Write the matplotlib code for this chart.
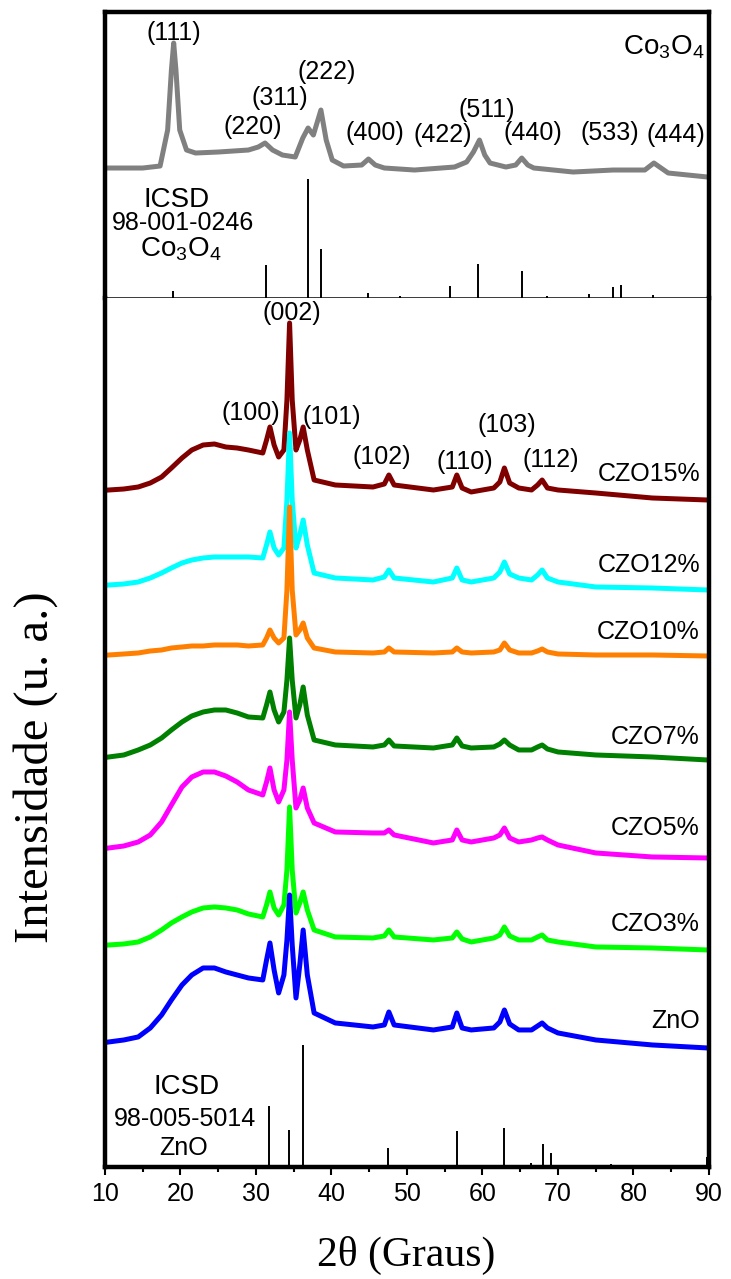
import matplotlib
matplotlib.use("Agg")
import matplotlib.pyplot as plt

plt.rcParams['font.family'] = ['Liberation Sans', 'DejaVu Sans']
plt.rcParams['mathtext.fontset'] = 'custom'
plt.rcParams['mathtext.rm'] = 'Liberation Sans'
plt.rcParams['mathtext.it'] = 'Liberation Sans'

# ---- Co3O4 pattern (top panel) ----
co_theta = [10.5, 15.0, 17.3, 18.3, 18.8, 19.1, 19.4, 19.9, 20.8, 22.0, 25.0, 29.0,
            30.3, 31.2, 32.2, 33.5, 35.2, 36.2, 36.9, 37.6, 38.6, 39.3, 40.1, 41.6,
            44.0, 44.9, 45.8, 47.0, 51.0, 56.3, 57.9, 58.8, 59.6, 60.3, 61.0, 63.1,
            64.4, 65.2, 66.0, 66.8, 72.0, 77.3, 81.5, 82.7, 84.6, 89.8]
co_int = [130, 130, 132, 168, 228, 255, 228, 168, 148, 145, 146, 148,
          151, 155, 148, 143, 141, 160, 170, 163, 188, 158, 138, 132,
          133, 139, 133, 130, 128, 131, 136, 146, 158, 143, 135, 131,
          133, 140, 133, 130, 126, 128, 128, 135, 125, 121]

co_ref_pos = [19.0, 31.3, 36.85, 38.55, 44.8, 49.1, 55.65, 59.35, 65.25, 68.6, 74.1, 77.3, 78.4, 82.6]
co_ref_int = [7, 33, 119, 49, 5, 2, 12, 34, 27, 2, 4, 11, 13, 3]

co_hkl = ['(111)', '(220)', '(311)', '(222)', '(400)', '(422)', '(511)', '(440)', '(533)', '(444)']
co_hkl_x = [19.1, 29.6, 33.2, 39.4, 45.7, 54.7, 60.5, 66.7, 76.8, 85.6]
co_hkl_y = [265, 171, 200, 226, 165, 163, 188, 165, 165, 163]

# ---- ZnO / CZO patterns (bottom panel) ----
theta = [10.5, 12.5, 14.4, 16.0, 17.5, 18.8, 20.2, 21.5, 23.0, 24.5, 26.0, 27.5,
         29.0, 30.9, 31.4, 31.85, 32.4, 33.0, 33.7, 34.1, 34.45, 34.8, 35.3, 35.8,
         36.25, 36.8, 37.7, 40.5, 45.5, 47.0, 47.6, 48.3, 53.5, 56.0, 56.6, 57.3,
         58.5, 61.5, 62.3, 62.9, 63.6, 64.8, 66.5, 67.3, 67.9, 68.6, 70.0, 75.0,
         82.5, 89.8]

czo15 = [677, 678, 680, 684, 690, 699, 709, 717, 722, 723, 720, 719,
         717, 714, 727, 740, 722, 710, 717, 767, 844, 767, 717, 727,
         740, 717, 687, 682, 680, 683, 692, 682, 677, 680, 692, 679,
         675, 679, 685, 699, 684, 679, 677, 682, 687, 679, 677, 674,
         669, 667]
czo12 = [582, 583, 585, 589, 594, 599, 604, 607, 609, 610, 610, 610,
         610, 609, 622, 635, 619, 612, 619, 667, 734, 667, 619, 632,
         647, 622, 594, 589, 587, 590, 597, 589, 585, 589, 599, 587,
         585, 589, 595, 605, 593, 589, 587, 592, 597, 589, 585, 580,
         579, 577]
czo10 = [512, 513, 514, 516, 517, 519, 520, 521, 521, 522, 522, 522,
         521, 522, 529, 537, 529, 524, 529, 577, 660, 577, 532, 537,
         544, 529, 519, 515, 514, 515, 519, 515, 514, 515, 519, 515,
         514, 515, 517, 524, 517, 514, 514, 516, 518, 515, 513, 512,
         512, 511]
czo7 = [410, 412, 417, 422, 429, 437, 445, 451, 455, 457, 457, 454,
        450, 449, 462, 475, 457, 445, 455, 487, 529, 487, 449, 462,
        480, 452, 427, 422, 420, 422, 427, 421, 419, 422, 429, 421,
        419, 420, 423, 427, 422, 417, 417, 420, 422, 418, 415, 412,
        410, 407]
czo5 = [319, 321, 325, 332, 345, 362, 380, 390, 395, 395, 391, 385,
        377, 372, 385, 399, 377, 365, 377, 407, 455, 407, 359, 367,
        379, 359, 344, 335, 334, 334, 337, 332, 324, 327, 337, 327,
        325, 329, 332, 339, 329, 325, 327, 329, 330, 327, 322, 314,
        310, 309]
czo3 = [222, 223, 225, 230, 237, 244, 250, 255, 259, 260, 259, 257,
        253, 250, 262, 275, 259, 252, 262, 297, 360, 297, 254, 264,
        275, 257, 237, 230, 229, 231, 237, 230, 227, 229, 235, 228,
        225, 229, 232, 240, 231, 227, 227, 230, 232, 227, 225, 220,
        219, 217]
zno = [125, 127, 130, 139, 152, 167, 182, 192, 199, 199, 195, 192,
       189, 187, 207, 224, 197, 174, 192, 227, 272, 222, 169, 202,
       237, 192, 154, 144, 140, 142, 155, 142, 137, 140, 154, 139,
       137, 139, 145, 157, 143, 137, 137, 141, 144, 139, 134, 127,
       122, 119]

series_names = ['CZO15%', 'CZO12%', 'CZO10%', 'CZO7%', 'CZO5%', 'CZO3%', 'ZnO']
series_data = [czo15, czo12, czo10, czo7, czo5, czo3, zno]
series_colors = ['#800000', '#00ffff', '#ff8000', '#008000', '#ff00ff', '#00ff00', '#0000ff']
series_label_y = [693, 602, 535, 430, 339, 243, 146]

zno_ref_pos = [31.75, 34.4, 36.25, 47.5, 56.6, 62.85, 66.4, 67.95, 69.1, 72.6, 77.0, 81.4, 89.7]
zno_ref_int = [61, 37, 122, 19, 36, 39, 4, 23, 14, 2, 3, 2, 10]

zno_hkl = ['(002)', '(100)', '(101)', '(102)', '(110)', '(103)', '(112)']
zno_hkl_x = [34.8, 29.3, 40.1, 46.6, 57.6, 63.2, 69.1]
zno_hkl_y = [854, 754, 750, 710, 705, 742, 707]

fig = plt.figure(figsize=(7.31, 12.79), dpi=100)
ax_top = fig.add_axes([0.1436, 0.767, 0.8263, 0.2236])
ax = fig.add_axes([0.1436, 0.0876, 0.8263, 0.6794])

# top panel
ax_top.plot(co_theta, co_int, color='#808080', lw=3.6)
ax_top.vlines(co_ref_pos, 0, co_ref_int, color='black', lw=1.4)
for t, x, y in zip(co_hkl, co_hkl_x, co_hkl_y):
    ax_top.text(x, y, t, ha='center', va='center', fontsize=18)
ax_top.text(89.4, 251, r'Co$_3$O$_4$', ha='right', va='center', fontsize=20)
ax_top.text(19.5, 98, 'ICSD', ha='center', va='center', fontsize=20)
ax_top.text(20.4, 75, '98-001-0246', ha='center', va='center', fontsize=18)
ax_top.text(20.0, 49, r'Co$_3$O$_4$', ha='center', va='center', fontsize=20)
ax_top.set_xlim(10, 90)
ax_top.set_ylim(0, 286)
ax_top.set_xticks([])
ax_top.set_yticks([])
for side in ['top', 'left', 'right']:
    ax_top.spines[side].set_linewidth(3.2)
ax_top.spines['bottom'].set_linewidth(1.8)

# bottom panel
for name, data, col, ly in zip(series_names, series_data, series_colors, series_label_y):
    ax.plot(theta, data, color=col, lw=3.6)
    ax.text(88.8, ly, name, ha='right', va='center', fontsize=18)
ax.vlines(zno_ref_pos, 0, zno_ref_int, color='black', lw=1.4)
for t, x, y in zip(zno_hkl, zno_hkl_x, zno_hkl_y):
    ax.text(x, y, t, ha='center', va='center', fontsize=18)
ax.text(20.8, 80, 'ICSD', ha='center', va='center', fontsize=20)
ax.text(20.6, 48, '98-005-5014', ha='center', va='center', fontsize=18)
ax.text(20.4, 19, 'ZnO', ha='center', va='center', fontsize=18)

ax.set_xlim(10, 90)
ax.set_ylim(0, 869)
ax.set_yticks([])
ax.set_xticks(range(10, 91, 10))
ax.set_xticks(range(15, 90, 10), minor=True)
ax.tick_params(axis='x', which='major', direction='out', length=6, width=1.5,
               labelsize=18, pad=5)
ax.tick_params(axis='x', which='minor', direction='out', length=3.5, width=1.5)
for side in ['bottom', 'left', 'right']:
    ax.spines[side].set_linewidth(3.2)
ax.spines['top'].set_visible(False)

fig.text(0.555, 0.018, '2θ (Graus)', ha='center', va='center', fontsize=30,
         family=['Liberation Serif', 'DejaVu Serif'])
fig.text(0.048, 0.40, 'Intensidade (u. a.)', ha='center', va='center', fontsize=35,
         rotation=90, family=['Liberation Serif', 'DejaVu Serif'])

fig.savefig('out.png', dpi=100)
